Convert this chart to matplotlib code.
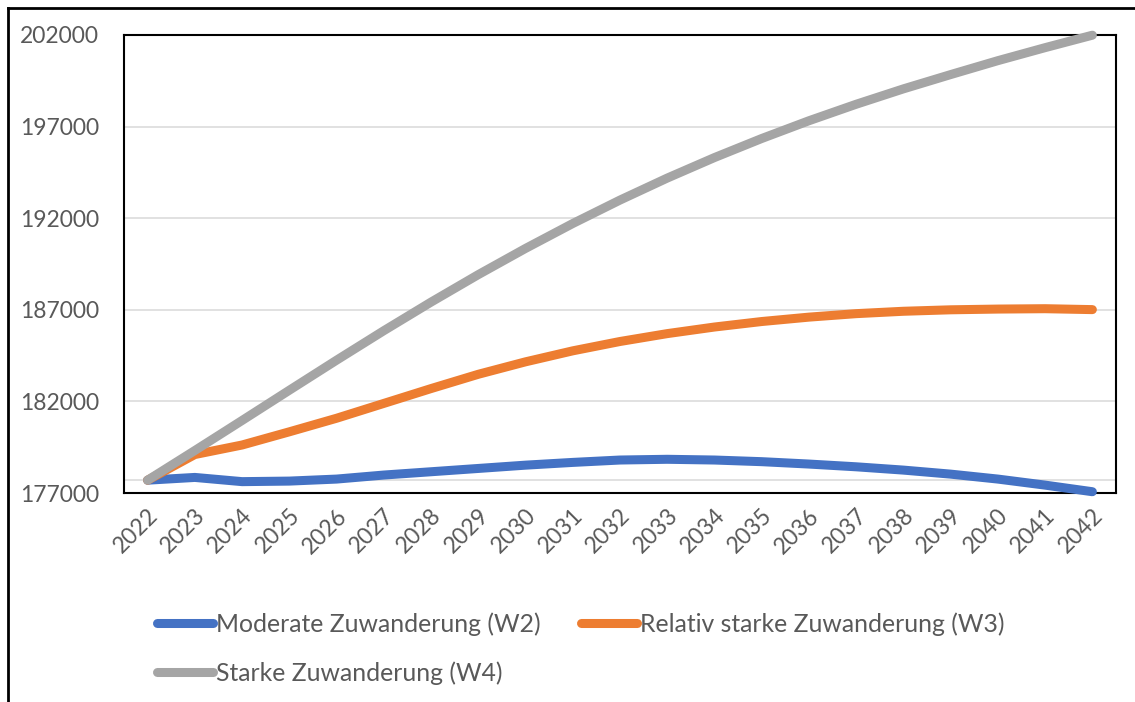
import matplotlib
matplotlib.use("Agg")
import matplotlib.pyplot as plt
from matplotlib.lines import Line2D
from matplotlib.transforms import ScaledTranslation

plt.rcParams["font.family"] = ["Lato", "DejaVu Sans"]

years = ["2022", "2023", "2024", "2025", "2026", "2027", "2028", "2029", "2030", "2031", "2032",
         "2033", "2034", "2035", "2036", "2037", "2038", "2039", "2040", "2041", "2042"]

w2 = [177700, 177850, 177620, 177650, 177760, 177980, 178160, 178340, 178520, 178670, 178800,
      178840, 178800, 178710, 178580, 178430, 178250, 178030, 177760, 177430, 177070]
w3 = [177700, 179100, 179620, 180340, 181080, 181890, 182700, 183480, 184160, 184760, 185270,
      185700, 186060, 186360, 186600, 186790, 186920, 187000, 187040, 187060, 187010]
w4 = [177700, 179320, 180960, 182610, 184250, 185860, 187420, 188920, 190350, 191710, 192990,
      194190, 195310, 196350, 197320, 198220, 199060, 199840, 200600, 201310, 201990]

names = ["Moderate Zuwanderung (W2)", "Relativ starke Zuwanderung (W3)", "Starke Zuwanderung (W4)"]
colors = ["#4472C4", "#ED7D31", "#A5A5A5"]
axis_cross = 177700

W, H = 1135, 702
fig = plt.figure(figsize=(W / 100, H / 100), dpi=100)
ax = fig.add_axes([124 / W, 1 - 493 / H, (1116 - 124) / W, (493 - 35) / H])

x = list(range(len(years)))
for vals, col, lab in zip([w2, w3, w4], colors, names):
    ax.plot(x, vals, color=col, lw=6.5, solid_capstyle="round", solid_joinstyle="round",
            clip_on=False, label=lab, zorder=3)

ax.set_xlim(-0.5, len(years) - 0.5)
ax.set_ylim(177000, 202000)
ax.set_yticks(range(177000, 202001, 5000))
ax.yaxis.grid(True, color="#d9d9d9", lw=1.1)
ax.set_axisbelow(True)
ax.axhline(axis_cross, color="#d9d9d9", lw=1.1, zorder=1)

ax.set_xticks(x)
ax.set_xticklabels(years, rotation=45, ha="right", rotation_mode="anchor")
ax.tick_params(length=0, labelsize=16.5, labelcolor="#595959")
ax.tick_params(axis="y", pad=18)
ax.tick_params(axis="x", pad=14)
for lbl in ax.get_xticklabels():
    lbl.set_va("center")
    lbl.set_transform(lbl.get_transform() + ScaledTranslation(0.07, 0, fig.dpi_scale_trans))

for s in ax.spines.values():
    s.set_color("black")
    s.set_linewidth(1.5)

# outer frame (top and left edge only)
fig.add_artist(Line2D([8 / W, 1], [1 - 8 / H, 1 - 8 / H], transform=fig.transFigure, color="black", lw=2))
fig.add_artist(Line2D([8 / W, 8 / W], [0, 1 - 8 / H], transform=fig.transFigure, color="black", lw=2))

h, l = ax.get_legend_handles_labels()
order = [0, 2, 1]
leg = fig.legend([h[i] for i in order], [l[i] for i in order], ncol=2, loc="upper left",
                 bbox_to_anchor=(157 / W, 1 - 612 / H), frameon=False, fontsize=17.8,
                 handlelength=2.27, handletextpad=0.13, columnspacing=1.6, labelspacing=1.03,
                 borderpad=0, borderaxespad=0)
for t in leg.get_texts():
    t.set_color("#595959")

fig.savefig("out.png", dpi=100)
